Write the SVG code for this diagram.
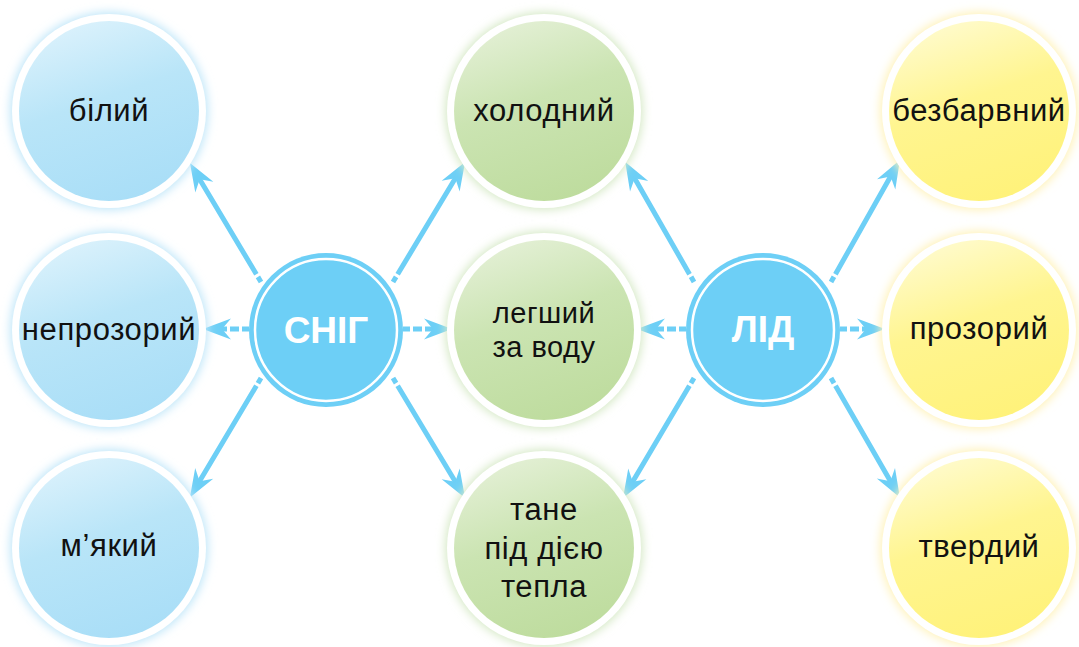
<svg xmlns="http://www.w3.org/2000/svg" width="1079" height="647" viewBox="0 0 1079 647">
<defs>
<style>
.lbl{font-family:"Liberation Sans",Arial,sans-serif;font-size:31px;letter-spacing:0.6px;fill:#111;text-anchor:middle}
.sm{font-size:29px;letter-spacing:0.5px}
.hub{fill:#6dcff6}
.hubring{fill:none;stroke:#fff;stroke-width:2.5}
.hubt{font-family:"Liberation Sans",Arial,sans-serif;font-size:37px;font-weight:bold;fill:#fff;text-anchor:middle}
.ring{fill:#fff}
.arr{stroke:#6dcff6;stroke-width:5;fill:none;marker-end:url(#ah)}
.d{stroke-dasharray:6 3 400}
.h{stroke-dasharray:7 3 9 3 400}
</style>
<filter id="blur" x="-30%" y="-30%" width="160%" height="160%"><feGaussianBlur stdDeviation="5"/></filter>
<linearGradient id="gb" x1="0.25" y1="0" x2="0.6" y2="1"><stop offset="0" stop-color="#dcf2fc"/><stop offset="0.45" stop-color="#b9e5f8"/><stop offset="1" stop-color="#a9def7"/></linearGradient>
<linearGradient id="gg" x1="0.25" y1="0" x2="0.6" y2="1"><stop offset="0" stop-color="#e4f0d6"/><stop offset="0.45" stop-color="#cbe4b2"/><stop offset="1" stop-color="#bedc9e"/></linearGradient>
<linearGradient id="gy" x1="0.25" y1="0" x2="0.6" y2="1"><stop offset="0" stop-color="#fffbcf"/><stop offset="0.45" stop-color="#fff590"/><stop offset="1" stop-color="#fff27a"/></linearGradient>
<marker id="ah" markerUnits="userSpaceOnUse" markerWidth="40" markerHeight="30" viewBox="-12 -15 40 30" refX="0" refY="0" orient="auto">
<path d="M-10,-10.5 L18,0 L-10,10.5 L-1,0 z" fill="#6dcff6"/>
</marker>
</defs>

<g id="connectors">
<line class="arr d" x1="261" y1="282" x2="199.2" y2="178.5"/>
<line class="arr d" x1="393" y1="282" x2="455.8" y2="177.5"/>
<line class="arr d" x1="261" y1="378" x2="199.1" y2="482"/>
<line class="arr d" x1="393" y1="378" x2="455.8" y2="482.5"/>
<line class="arr h" x1="249" y1="329" x2="221" y2="329"/>
<line class="arr h" x1="403" y1="329" x2="434" y2="329"/>
<line class="arr d" x1="694" y1="282" x2="634.2" y2="177.5"/>
<line class="arr d" x1="831" y1="282" x2="891.1" y2="175.6"/>
<line class="arr d" x1="694" y1="378" x2="632.2" y2="482.5"/>
<line class="arr d" x1="831" y1="378" x2="890.9" y2="482"/>
<line class="arr h" x1="686" y1="329" x2="655" y2="329"/>
<line class="arr h" x1="840" y1="329" x2="867" y2="329"/>
</g>

<g id="n-bilyi">
<circle cx="109" cy="111" r="99" fill="#bfe6f9" filter="url(#blur)"/>
<circle cx="109" cy="111" r="97" class="ring"/>
<circle cx="109" cy="111" r="90" fill="url(#gb)"/>
<text x="109" y="121" class="lbl">білий</text>
</g>
<g id="n-neprozoryi">
<circle cx="109" cy="330" r="99" fill="#bfe6f9" filter="url(#blur)"/>
<circle cx="109" cy="330" r="97" class="ring"/>
<circle cx="109" cy="330" r="90" fill="url(#gb)"/>
<text x="109" y="340" class="lbl">непрозорий</text>
</g>
<g id="n-miakyi">
<circle cx="109" cy="548" r="99" fill="#bfe6f9" filter="url(#blur)"/>
<circle cx="109" cy="548" r="97" class="ring"/>
<circle cx="109" cy="548" r="90" fill="url(#gb)"/>
<text x="109" y="556" class="lbl">м’який</text>
</g>

<g id="n-kholodnyi">
<circle cx="544" cy="111" r="99" fill="#d6e9c6" filter="url(#blur)"/>
<circle cx="544" cy="111" r="97" class="ring"/>
<circle cx="544" cy="111" r="90" fill="url(#gg)"/>
<text x="544" y="121" class="lbl">холодний</text>
</g>
<g id="n-legshyi">
<circle cx="544" cy="330" r="99" fill="#d6e9c6" filter="url(#blur)"/>
<circle cx="544" cy="330" r="97" class="ring"/>
<circle cx="544" cy="330" r="90" fill="url(#gg)"/>
<text x="544" y="323" class="lbl sm">легший</text>
<text x="544" y="357" class="lbl sm">за воду</text>
</g>
<g id="n-tane">
<circle cx="544" cy="548" r="99" fill="#d6e9c6" filter="url(#blur)"/>
<circle cx="544" cy="548" r="97" class="ring"/>
<circle cx="544" cy="548" r="90" fill="url(#gg)"/>
<text x="544" y="520" class="lbl">тане</text>
<text x="544" y="559" class="lbl">під дією</text>
<text x="544" y="597" class="lbl">тепла</text>
</g>

<g id="n-bezbarvnyi">
<circle cx="979" cy="111" r="99" fill="#fff2b8" filter="url(#blur)"/>
<circle cx="979" cy="111" r="97" class="ring"/>
<circle cx="979" cy="111" r="90" fill="url(#gy)"/>
<text x="979" y="121" class="lbl">безбарвний</text>
</g>
<g id="n-prozoryi">
<circle cx="979" cy="330" r="99" fill="#fff2b8" filter="url(#blur)"/>
<circle cx="979" cy="330" r="97" class="ring"/>
<circle cx="979" cy="330" r="90" fill="url(#gy)"/>
<text x="979" y="339" class="lbl">прозорий</text>
</g>
<g id="n-tverdyi">
<circle cx="979" cy="548" r="99" fill="#fff2b8" filter="url(#blur)"/>
<circle cx="979" cy="548" r="97" class="ring"/>
<circle cx="979" cy="548" r="90" fill="url(#gy)"/>
<text x="979" y="557" class="lbl">твердий</text>
</g>

<g id="hub-snig">
<circle cx="326" cy="330" r="77" class="hub"/>
<circle cx="326" cy="330" r="71" class="hubring"/>
<text x="326" y="343" class="hubt">СНІГ</text>
</g>
<g id="hub-lid">
<circle cx="763" cy="330" r="77" class="hub"/>
<circle cx="763" cy="330" r="71" class="hubring"/>
<text x="763" y="342" class="hubt">ЛІД</text>
</g>
</svg>
